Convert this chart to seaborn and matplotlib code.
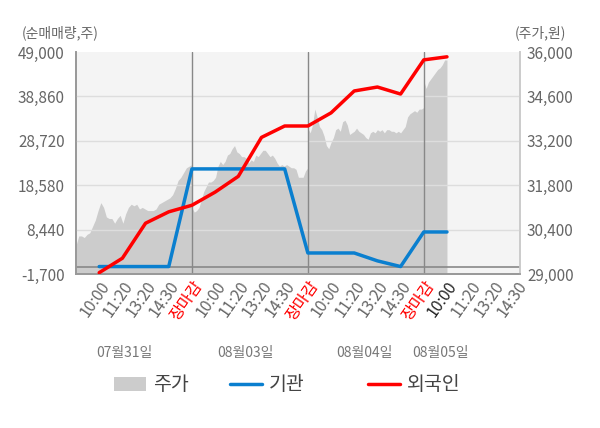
import numpy as np
import matplotlib
matplotlib.use("Agg")
import matplotlib.pyplot as plt
import seaborn as sns
from matplotlib.patches import Patch
from matplotlib.lines import Line2D

# tick labels along the x axis (slots 1..19)
slot_labels = ["10:00", "11:20", "13:20", "14:30", "장마감"] * 3 + ["10:00", "11:20", "13:20", "14:30"]
dates = ["07월31일", "08월03일", "08월04일", "08월05일"]

# net buying at each slot (shares)
slots = list(range(1, 17))
inst = [0, 0, 0, 0, 22300, 22300, 22300, 22300, 22300, 3100, 3100, 3100, 1300, 0, 7900, 7900]
foreign = [-1400, 1900, 9900, 12500, 14000, 17000, 20600, 29500, 32100, 32100,
           35100, 40100, 41000, 39400, 47200, 47900]

# intraday stock price per day (won)
price_d1 = [29900, 30200, 30200, 30150, 30250, 30300, 30500, 30700, 31000, 31250, 31100,
            30800, 30750, 30750, 30600, 30750, 30850, 30600, 30900, 31100, 31200, 31150,
            31200, 31050, 31100, 31050, 31000, 31000, 31000, 31050, 31200, 31250, 31300,
            31350, 31400, 31500, 31700, 31950, 32050, 32200, 32350, 32400, 32450]
price_d2 = [31100, 30950, 31000, 31100, 31350, 31600, 31750, 31900, 31900, 31950, 32050,
            32400, 32550, 32450, 32550, 32750, 32800, 32950, 33050, 32850, 32800, 32700,
            32700, 32650, 32500, 32600, 32550, 32750, 32700, 32800, 32900, 32900, 32800,
            32700, 32750, 32650, 32500, 32400, 32450, 32400, 32450, 32400, 32350, 32350,
            32300, 32050, 32050, 32050, 32250, 32350]
price_d3 = [33600, 33450, 33700, 34200, 33950, 33650, 33550, 33350, 33050, 32950, 33150,
            33300, 33550, 33600, 33500, 33800, 33850, 33700, 33400, 33450, 33500, 33600,
            33500, 33450, 33400, 33300, 33250, 33450, 33500, 33450, 33550, 33500, 33550,
            33450, 33550, 33550, 33500, 33500, 33450, 33500, 33450, 33550, 33650, 33950,
            34050, 34100, 34150, 34100, 34200, 34200, 34250]
price_d4 = [35100, 34850, 35050, 35150, 35250, 35350, 35450, 35500, 35600, 35750, 35750]

left_ticks = [-1700, 8440, 18580, 28720, 38860, 49000]
right_ticks = [29000, 30400, 31800, 33200, 34600, 36000]

sns.set_theme(style="white")
plt.rcParams["font.family"] = ["Noto Sans CJK KR", "DejaVu Sans"]

fig = plt.figure(figsize=(6, 4.28), dpi=100)
fig.subplots_adjust(left=76/600, right=520/600, top=1-52/428, bottom=1-274/428)
ax = fig.add_subplot(111)
ax.set_facecolor("#f4f4f4")
ax2 = ax.twinx()

# price area (drawn on the base axes, scale on the right)
px, py = [], []
for d, day in enumerate([price_d1, price_d2, price_d3]):
    px.extend(d * 5 + np.linspace(0, 5, len(day)))
    py.extend(day)
px.extend(15 + np.linspace(0, 1, len(price_d4)))
py.extend(price_d4)
ax.fill_between(px, py, 29000, color="#cccccc", lw=0, zorder=1)
ax.set_ylim(29000, 36000)
ax.set_yticks(right_ticks)
ax.set_yticklabels([f"{v:,}" for v in right_ticks])
ax.yaxis.tick_right()
ax.tick_params(axis="y", colors="#666666", labelsize=11, length=0, pad=5)

ax.set_xlim(0, 19.15)
ax.set_xticks(range(1, 20))
ax.set_xticklabels(slot_labels, rotation=55, ha="right", rotation_mode="anchor")
ax.tick_params(axis="x", length=0, labelsize=11.5, pad=3)
for i, t in enumerate(ax.get_xticklabels()):
    if slot_labels[i] == "장마감":
        t.set_color("red")
    elif i == 15:
        t.set_color("#222222")
    else:
        t.set_color("#666666")
ax.set_xticks([0, 5, 10, 15], minor=True)
ax.tick_params(axis="x", which="minor", length=5, color="#999999", width=1, direction="out")

# net buying lines (scale on the left)
ax2.set_ylim(-1700, 49000)
ax2.set_yticks(left_ticks)
ax2.set_yticklabels([f"{v:,}" for v in left_ticks])
ax2.yaxis.tick_left()
ax2.tick_params(axis="y", colors="#666666", labelsize=11, length=0, pad=8)
for v in left_ticks[1:-1]:
    ax2.axhline(v, color="#dddddd", lw=1, zorder=1)
for v in [5, 10, 15]:
    ax2.axvline(v, color="#888888", lw=1, zorder=2)
ax2.axhline(0, color="#888888", lw=1.2, zorder=2)
sns.lineplot(x=slots, y=inst, ax=ax2, color="#0a7fcf", lw=2.5, zorder=4)
sns.lineplot(x=slots, y=foreign, ax=ax2, color="#ff0000", lw=2.5, zorder=5)

for a in (ax, ax2):
    a.spines["top"].set_visible(False)
    a.spines["left"].set_color("#999999")
    a.spines["bottom"].set_color("#999999")
    a.spines["right"].set_color("#cccccc")

tr = matplotlib.transforms.blended_transform_factory(ax.transData, ax.transAxes)
for xd, lab in zip([2.1, 7.3, 12.45, 15.7], dates):
    ax.text(xd, -0.356, lab, transform=tr, ha="center", va="center", fontsize=10, color="#777777")

fig.text(22/600, 1-33/428, "(순매매량,주)", ha="left", va="center", fontsize=10, color="#666666")
fig.text(566/600, 1-33/428, "(주가,원)", ha="right", va="center", fontsize=10, color="#666666")

handles = [Patch(facecolor="#cccccc", edgecolor="none"),
           Line2D([0], [0], color="#0a7fcf", lw=2.5),
           Line2D([0], [0], color="#ff0000", lw=2.5)]
for h, lab, x0 in zip(handles, ["주가", "기관", "외국인"], [114, 230, 368]):
    fig.legend([h], [lab], loc="center left", bbox_to_anchor=(x0/600, 1-385/428),
               frameon=False, fontsize=14, handlelength=1.65, handleheight=0.75,
               handletextpad=0.35, borderpad=0, borderaxespad=0, labelcolor="#444444")

fig.savefig("out.png", dpi=100)
